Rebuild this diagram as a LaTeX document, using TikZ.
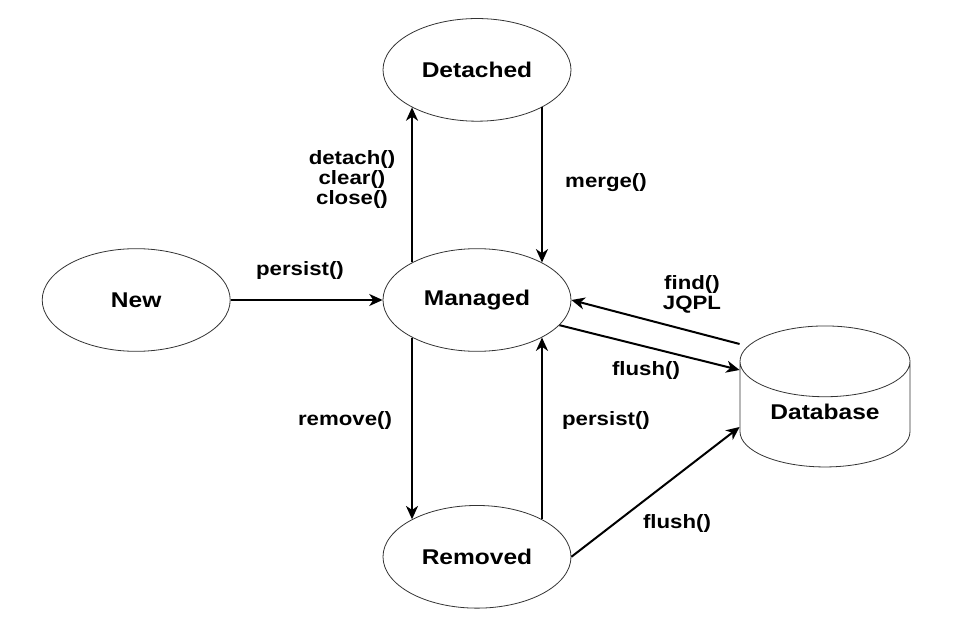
\documentclass[tikz,border=0pt]{standalone}
\usepackage{fontspec}
\setmainfont{Liberation Sans}[FakeStretch=1.15]
\usetikzlibrary{positioning,arrows.meta,shapes.geometric}

\begin{document}
\begin{tikzpicture}[x=0.75pt,y=-0.75pt,every node/.style={align=center},
      st/.style={ellipse,draw=black!80,line width=0.6pt,inner sep=0pt,minimum width=141pt,minimum height=77pt,font=\fontsize{16}{18}\selectfont\bfseries},
      dbst/.style={cylinder,shape border rotate=90,aspect=0.6,draw=black!80,line width=0.6pt,minimum width=127.5pt,minimum height=105.75pt,font=\fontsize{16}{18}\selectfont\bfseries},
      lbl/.style={font=\fontsize{14.5}{15}\selectfont\bfseries},
      ar/.style={-{Stealth[length=10pt,width=9pt,inset=3pt]},line width=1.5pt}]
    \useasboundingbox (0,0) rectangle (968,620);
    \node[st] (man) at (477,300) {Managed};
    \node[st,left=114pt of man] (new) {New};
    \node[st,above=95pt of man] (det) {Detached};
    \node[st,below=115pt of man] (rem) {Removed};
    \node[dbst] (db) at (825,420) {\raisebox{12pt}{Database}};
    \draw[ar] (new)--(man);
    \draw[ar] (man.150)--(det.-150); \draw[ar] (det.-30)--(man.30);
    \draw[ar] (man.-150)--(rem.150); \draw[ar] (rem.30)--(man.-30);
    \draw[ar] ([yshift=57pt]db.west)--(man.east);
    \draw[ar] (man.-17)--([yshift=37.5pt]db.west);
    \draw[ar] (rem.east)--([yshift=-5.25pt]db.west);
    \node[lbl] (lpersist) at (300,271) {persist()};
    \node[lbl] (ldetach) at (352,180) {detach()\\clear()\\close()};
    \node[lbl] (lmerge) at (606,183) {merge()};
    \node[lbl] (lremove) at (345,421) {remove()};
    \node[lbl] (lrepersist) at (606,421) {persist()};
    \node[lbl] (lfind) at (692,294) {find()\\JQPL};
    \node[lbl] (lflush) at (646,371) {flush()};
    \node[lbl] (lflushrem) at (677,523) {flush()};
  \end{tikzpicture}
\end{document}
